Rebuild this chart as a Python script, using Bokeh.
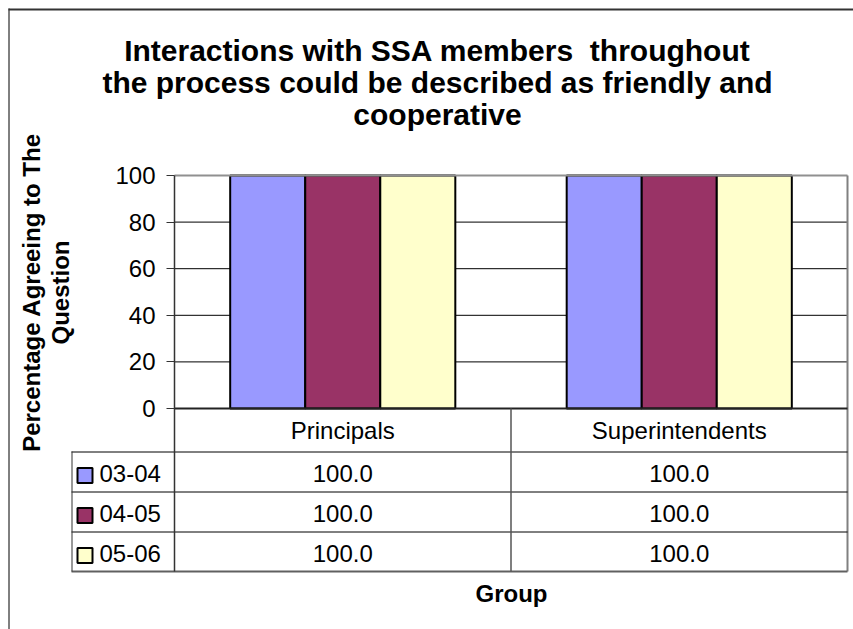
import math
from bokeh.plotting import figure
from bokeh.models import Range1d, FixedTicker, LinearAxis
from bokeh.core.properties import value
from bokeh.embed import file_html
from bokeh.resources import INLINE

# ---------------- data ----------------
categories = ["Principals", "Superintendents"]
series_names = ["03-04", "04-05", "05-06"]
values_0304 = [100.0, 100.0]
values_0405 = [100.0, 100.0]
values_0506 = [100.0, 100.0]
y_ticks = [0, 20, 40, 60, 80, 100]
grid_ticks = [20, 40, 60, 80]
series_colors = ["#9999FF", "#993366", "#FFFFCC"]

# (a no-break space keeps the double space of the original title in SVG)
title_lines = ["Interactions with SSA members \u00a0throughout",
               "the process could be described as friendly and",
               "cooperative"]
y_label_lines = ["Percentage Agreeing to The", "Question"]
x_label = "Group"

all_values = [values_0304, values_0405, values_0506]

# ---------------- layout (canvas pixels) ----------------
W, H = 853, 629
PLOT_L, PLOT_R = 174, 847
PLOT_T, AXIS_Y, TABLE_B = 175, 408, 571
LEG_L = 71
Y_MAX = y_ticks[-1]
PXU = (AXIS_Y - PLOT_T) / Y_MAX
XPU = (PLOT_R - PLOT_L) / len(categories)
FONT = "Liberation Sans"


def X(px):
    return (px - PLOT_L) / XPU


def Y(py):
    return (AXIS_Y - py) / PXU


p = figure(width=W, height=H, output_backend="svg", toolbar_location=None,
           x_range=Range1d(X(0), X(W)), y_range=Range1d(Y(H), Y(0)),
           x_axis_location=None, y_axis_location=None, title=None,
           min_border=0)
p.background_fill_color = "white"
p.border_fill_color = "white"
p.outline_line_color = None
p.grid.visible = False

# y axis, fixed at the left edge of the plot area
yax = LinearAxis(fixed_location=0, bounds=(Y(TABLE_B), Y_MAX),
                 ticker=FixedTicker(ticks=y_ticks))
yax.major_label_text_font = FONT
yax.major_label_text_font_size = "24px"
yax.major_label_text_color = "black"
yax.major_tick_out = 8
yax.major_tick_in = 0
yax.minor_tick_out = 0
yax.minor_tick_in = 0
yax.major_label_standoff = 11
yax.axis_line_color = "#333333"
yax.axis_line_width = 1.5
yax.major_tick_line_color = "#333333"
p.add_layout(yax, "left")

ncat = len(categories)
nser = len(series_names)

# gridlines inside the plot area
p.segment(x0=[0] * len(grid_ticks), x1=[ncat] * len(grid_ticks),
          y0=grid_ticks, y1=grid_ticks, line_color="black", line_width=1)

# bars
BAR_W = 0.223
for i, (vals, col) in enumerate(zip(all_values, series_colors)):
    off = (i - 1) * BAR_W
    xs = [c + 0.5 + off for c in range(ncat)]
    p.vbar(x=xs, top=vals, bottom=0, width=BAR_W, fill_color=col,
           line_color="black", line_width=2)

# plot-area border (top, right) and category axis line
p.segment(x0=[0], y0=[Y_MAX], x1=[ncat], y1=[Y_MAX], line_color="#909090", line_width=2)
p.segment(x0=[ncat], y0=[Y_MAX], x1=[ncat], y1=[Y(TABLE_B)], line_color="#808080", line_width=2)
p.segment(x0=[0], y0=[0], x1=[ncat], y1=[0], line_color="#222222", line_width=2)

# data table lines
row_lines = [Y(451.5 + 40 * r) for r in range(nser)]
p.segment(x0=[X(LEG_L)] * nser, x1=[ncat] * nser,
          y0=row_lines, y1=row_lines, line_color="black", line_width=1)
p.segment(x0=[X(LEG_L)], y0=[Y(TABLE_B)], x1=[ncat], y1=[Y(TABLE_B)],
          line_color="#606060", line_width=2)
p.segment(x0=[X(LEG_L + 0.5)], y0=[Y(451)], x1=[X(LEG_L + 0.5)], y1=[Y(TABLE_B)],
          line_color="#333333", line_width=1)
seps = list(range(1, ncat))
p.segment(x0=seps, y0=[0] * len(seps), x1=seps, y1=[Y(TABLE_B)] * len(seps),
          line_color="#555555", line_width=1.5)

TXT = dict(text_font=value(FONT), text_color="black", text_baseline="middle")

# table: category header
p.text(x=[c + 0.5 for c in range(ncat)], y=[Y(430)] * ncat, text=categories,
       text_font_size="24px", text_align="center", **TXT)

# table: values
tx, ty, tt = [], [], []
for r, vals in enumerate(all_values):
    for c, v in enumerate(vals):
        tx.append(c + 0.5)
        ty.append(Y(473 + 40 * r))
        tt.append(f"{v:.1f}")
p.text(x=tx, y=ty, text=tt, text_font_size="24px", text_align="center", **TXT)

# table: legend keys
p.scatter(x=[X(84.5)] * nser, y=[Y(475 + 40 * r) for r in range(nser)],
          marker="square", size=15, fill_color=series_colors,
          line_color="black", line_width=2)
p.text(x=[X(99)] * nser, y=[Y(473 + 40 * r) for r in range(nser)], text=series_names,
       text_font_size="24px", text_align="left", **TXT)

# title
p.text(x=[X(437)] * len(title_lines), y=[Y(50 + 32 * k) for k in range(len(title_lines))],
       text=title_lines, text_font_size="30px", text_font_style="bold",
       text_align="center", **TXT)

# y-axis title (two rotated lines)
p.text(x=[X(31 + 28.5 * k) for k in range(len(y_label_lines))], y=[Y(292)] * len(y_label_lines),
       text=y_label_lines, angle=math.pi / 2, text_font_size="24px",
       text_font_style="bold", text_align="center", **TXT)

# x-axis title
p.text(x=[X(511)], y=[Y(593)], text=[x_label], text_font_size="24px",
       text_font_style="bold", text_align="center", **TXT)

# chart-area border (left and top edges)
p.segment(x0=[X(8.5)], y0=[Y(8)], x1=[X(8.5)], y1=[Y(H)], line_color="black", line_width=1)
p.segment(x0=[X(8)], y0=[Y(9)], x1=[X(W)], y1=[Y(9)], line_color="#333333", line_width=2)

open("out.html", "w").write(file_html(p, INLINE))
